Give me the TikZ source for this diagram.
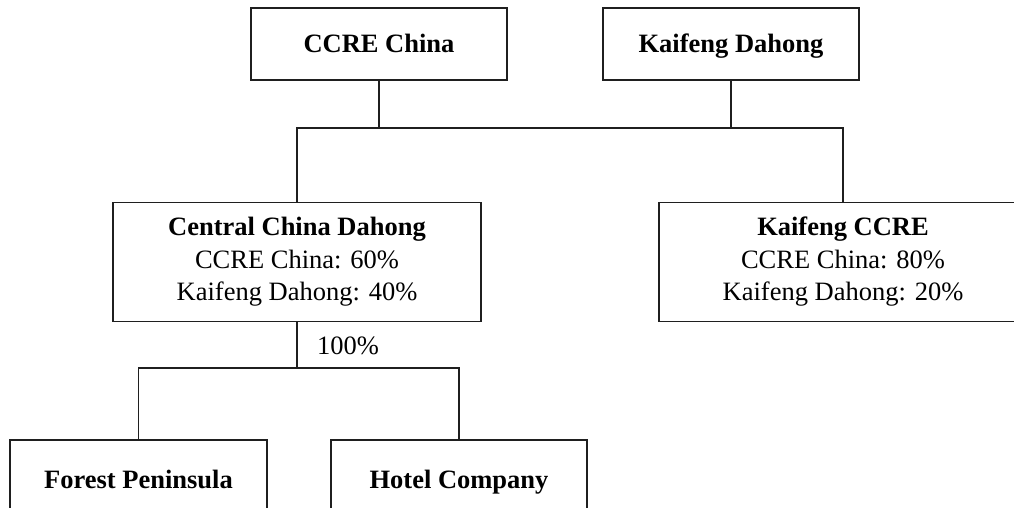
\documentclass[tikz,border=0pt]{standalone}
\usepackage{fontspec}
\setmainfont{Liberation Serif}
\begin{document}
\begin{tikzpicture}[x=1pt,y=-1pt,
  ln/.style={line width=1.2pt,draw=black!88},
  box/.style={ln,rectangle,inner sep=0pt,align=center,
    font=\fontsize{26.5}{32.5}\selectfont},
  onebox/.style={box,text height=18pt,text depth=0pt},
  lbl/.style={inner sep=0pt,font=\fontsize{26.5}{32}\selectfont}]
\useasboundingbox (0,0) rectangle (1014,508);
\clip (0,0) rectangle (1014,508);
\node[onebox,minimum width=256pt,minimum height=72pt] (ccre) at (379,44) {\textbf{CCRE China}};
\node[onebox,minimum width=256pt,minimum height=72pt] (kd) at (731,44) {\textbf{Kaifeng Dahong}};
\node[box,minimum width=368pt,minimum height=119.5pt] (ccd) at (297,262)
  {\textbf{Central China Dahong}\\CCRE China: 60\%\\Kaifeng Dahong: 40\%};
\node[box,minimum width=368pt,minimum height=119.5pt] (kc) at (843,262)
  {\textbf{Kaifeng CCRE}\\CCRE China: 80\%\\Kaifeng Dahong: 20\%};
\node[onebox,minimum width=257pt,minimum height=78pt] (fp) at (138.5,479) {\textbf{Forest Peninsula}};
\node[onebox,minimum width=256pt,minimum height=78pt] (hc) at (459,479) {\textbf{Hotel Company}};
\coordinate (topbar) at (0,128);
\coordinate (lowbar) at (0,368);
\draw[ln] (ccre.south) -- (ccre.south |- topbar);
\draw[ln] (kd.south) -- (kd.south |- topbar);
\draw[ln] (ccd.north) -- (ccd.north |- topbar) -- (kc.north |- topbar) -- (kc.north);
\draw[ln] (ccd.south) -- (ccd.south |- lowbar);
\draw[ln] (fp.north) -- (fp.north |- lowbar) -- (hc.north |- lowbar) -- (hc.north);
\node[lbl,anchor=west] (pct) at (317,346) {100\%};
\end{tikzpicture}
\end{document}
